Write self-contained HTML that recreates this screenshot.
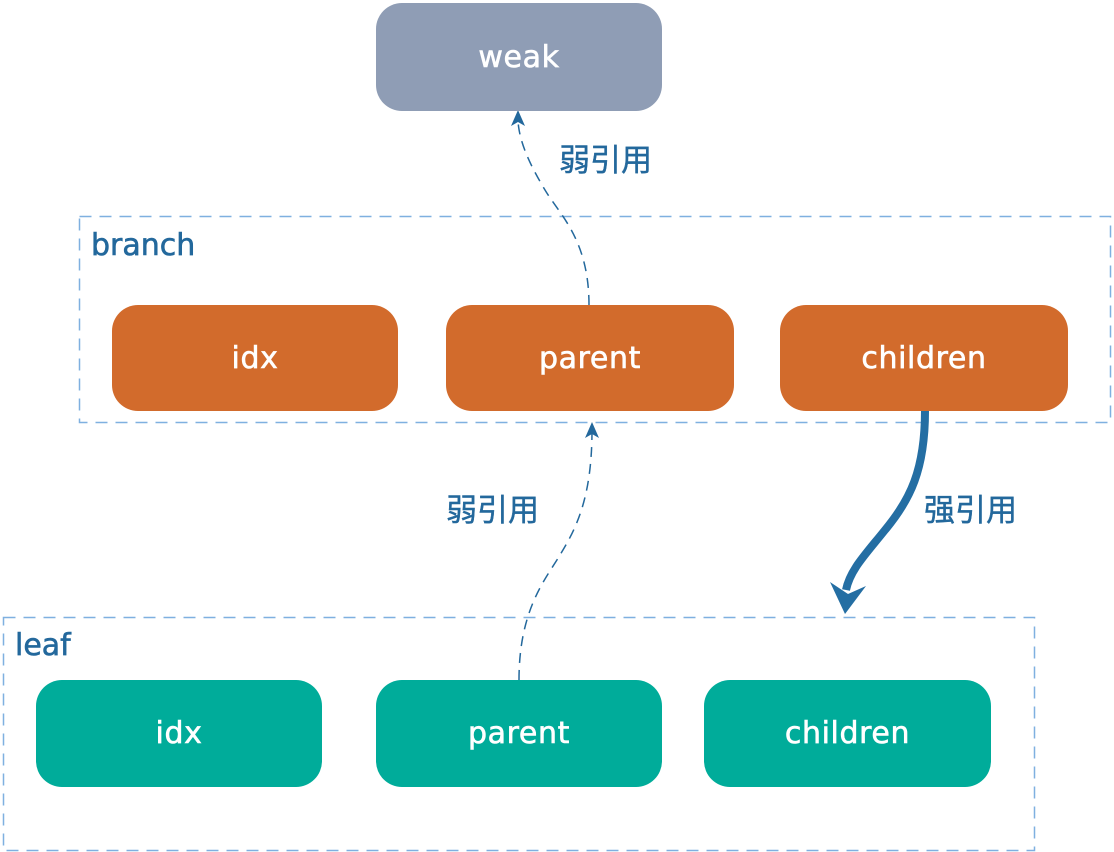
<!DOCTYPE html>
<html><head><meta charset="utf-8"><style>
html,body{margin:0;padding:0;background:#fff;width:1114px;height:852px;overflow:hidden;font-family:"DejaVu Sans","Noto Sans CJK SC",sans-serif}
.b{position:absolute;border-radius:26px;color:#fff;font-size:30px;letter-spacing:0.6px;-webkit-text-stroke:0.6px #fff;display:flex;align-items:center;justify-content:center}
.o{background:#d26b2c}.g{background:#00ac9a}
.lbl{position:absolute;color:#23689c;font-size:30px;-webkit-text-stroke:0.6px #23689c}
.cj{position:absolute;color:#23689c;font-size:31px;font-family:"Noto Sans CJK SC",sans-serif;-webkit-text-stroke:0.4px #23689c}
</style></head><body>
<svg width="1114" height="852" style="position:absolute;left:0;top:0">
<defs>
<marker id="ah" markerWidth="16" markerHeight="16" refX="8" refY="8" orient="auto" markerUnits="userSpaceOnUse"><path d="M0,1 L16,8 L0,15 L4,8 Z" fill="#23689c"/></marker>
</defs>
<rect x="79.5" y="216.5" width="1031" height="206" fill="none" stroke="#7fb0e0" stroke-width="1.5" stroke-dasharray="12,8"/>
<rect x="3.5" y="617.5" width="1031" height="233" fill="none" stroke="#7fb0e0" stroke-width="1.5" stroke-dasharray="12,8"/>
<path d="M589,305 C589,240 560,215 545,190 C530,165 518,140 518,118" fill="none" stroke="#23689c" stroke-width="1.5" stroke-dasharray="10,7" marker-end="url(#ah)"/>
<path d="M519,680 C519,610 545,580 560,555 C575,530 592,500 592,430" fill="none" stroke="#23689c" stroke-width="1.5" stroke-dasharray="10,7" marker-end="url(#ah)"/>
<path d="M925,411 C925,470 910,500 885,530 C865,555 850,570 846,590" fill="none" stroke="#246ea3" stroke-width="8"/>
<path d="M830,582 L845,614 L866,586 L848,594 Z" fill="#246ea3"/>
</svg>
<div class="b" style="left:376px;top:3px;width:286px;height:108px;background:#8f9db5">weak</div>
<div class="lbl" style="left:91px;top:228px">branch</div>
<div class="lbl" style="left:15px;top:628px">leaf</div>
<div class="b o" style="left:112px;top:305px;width:286px;height:106px">idx</div>
<div class="b o" style="left:446px;top:305px;width:288px;height:106px">parent</div>
<div class="b o" style="left:780px;top:305px;width:288px;height:106px">children</div>
<div class="b g" style="left:36px;top:680px;width:286px;height:107px">idx</div>
<div class="b g" style="left:376px;top:680px;width:286px;height:107px">parent</div>
<div class="b g" style="left:704px;top:680px;width:287px;height:107px">children</div>
<div class="cj" style="left:559px;top:135px">弱引用</div>
<div class="cj" style="left:446px;top:485px">弱引用</div>
<div class="cj" style="left:924px;top:485px">强引用</div>
</body></html>
